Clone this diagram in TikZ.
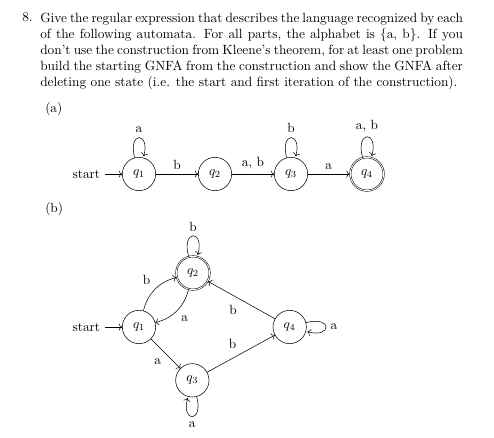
\documentclass[tikz,border=0pt]{standalone}
\usepackage{tikz}
\usetikzlibrary{automata,positioning,arrows.meta}

\begin{document}
\begin{tikzpicture}[
  node distance=57pt,on grid,auto,
  every state/.style={minimum size=25pt,inner sep=1pt},
  qtext/.style={anchor=north west,inner sep=0pt,text width=317pt,align=justify},
  part/.style={anchor=base west,inner sep=0pt}
]
\useasboundingbox (0,0) rectangle (370.5pt,-328.5pt);

% question
\node[part] (num) at (16.5pt,-16.5pt) {8.};
\node[qtext] (txt) at (30pt,-9.5pt) {Give the regular expression that describes the language recognized by each\linebreak
of the following automata. For all parts, the alphabet is $\{$a, b$\}$. If you\linebreak
don't use the construction from Kleene's theorem, for at least one problem\linebreak
build the starting GNFA from the construction and show the GNFA after\linebreak
deleting one state (i.e. the start and first iteration of the construction).};

% (a)
\node[part] (pa) at (33.75pt,-84.4pt) {(a)};
\node[state,initial] (a1) at (104.25pt,-130.5pt) {$q_1$};
\node[state,right=of a1] (a2) {$q_2$};
\node[state,right=of a2] (a3) {$q_3$};
\node[state,accepting,right=of a3] (a4) {$q_4$};

\path[->] (a1) edge[loop above] node {a} ()
               edge node {b} (a2)
          (a2) edge node {a, b} (a3)
          (a3) edge[loop above] node {b} ()
               edge node {a} (a4)
          (a4) edge[loop above] node {a, b} ();

% (b)
\node[part] (pb) at (33.75pt,-159.4pt) {(b)};
\node[state,initial] (b1) at (104.25pt,-245.25pt) {$q_1$};
\node[state,accepting,above right=40.5pt and 40.5pt of b1] (b2) {$q_2$};
\node[state,below right=40pt and 40pt of b1] (b3) {$q_3$};
\node[state,right=113pt of b1] (b4) {$q_4$};

\path[->] (b1) edge[bend left] node {b} (b2)
               edge node[swap] {a} (b3)
          (b2) edge[loop above] node {b} ()
               edge[bend left] node {a} (b1)
          (b3) edge[loop below] node {a} ()
               edge node {b} (b4)
          (b4) edge[loop right] node {a} ()
               edge node {b} (b2);
\end{tikzpicture}
\end{document}
